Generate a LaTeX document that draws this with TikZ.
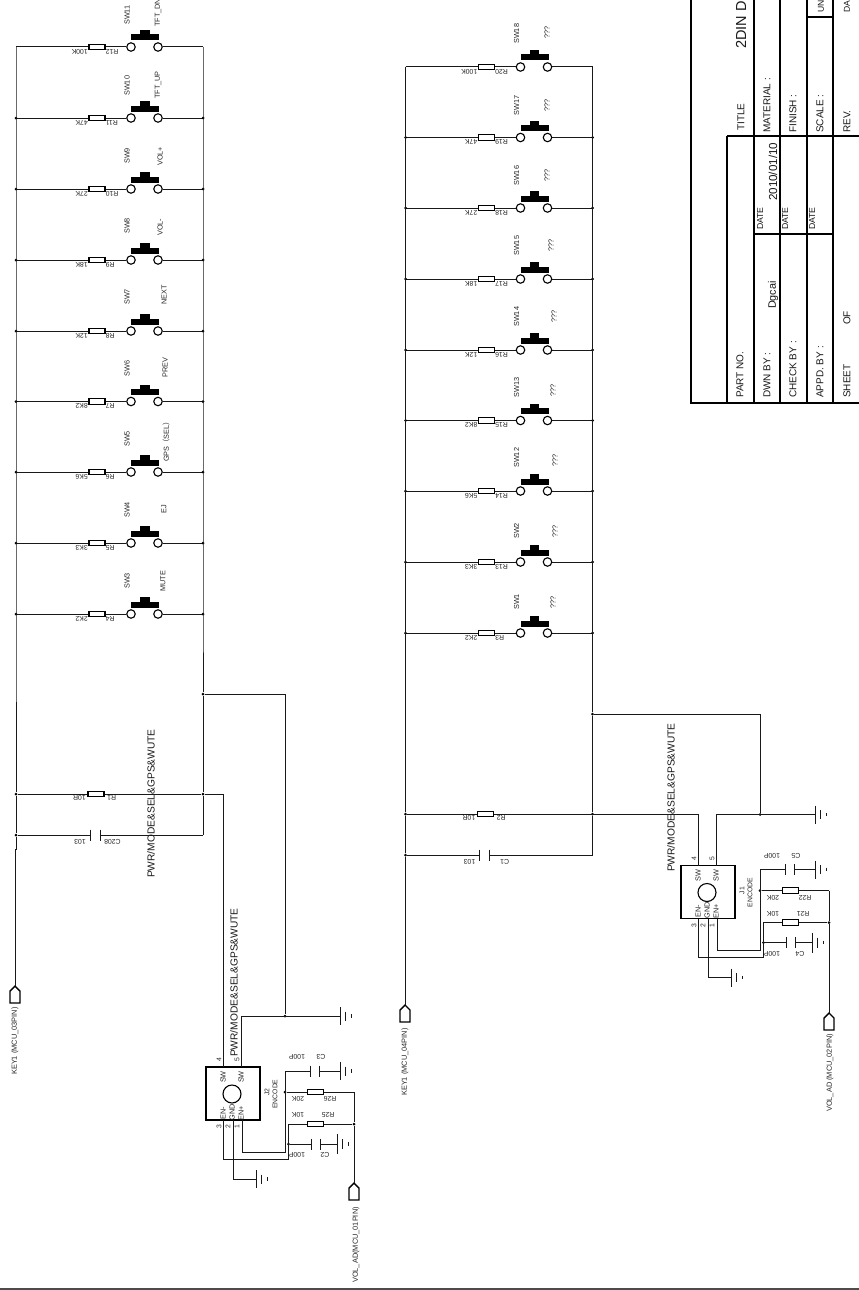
\documentclass[tikz,border=0pt]{standalone}
\usepackage{fontspec}
\setmainfont{Liberation Sans}
\newfontfamily\cjkf{Noto Sans CJK SC}
\newcommand\fs[1]{\fontsize{#1}{#1}\selectfont}
\tikzset{
  wire/.style={draw=black!90,line width=1pt},
  frame/.style={draw=black,line width=1.4pt},
  res/.style={draw=black,line width=1.1pt,fill=white,rectangle,minimum width=16pt,minimum height=5.5pt,inner sep=0pt},
  contact/.style={draw=black,line width=1.1pt,fill=white,circle,minimum size=8.5pt,inner sep=0pt},
  jdot/.style={fill=black,circle,minimum size=3pt,inner sep=0pt},
  up/.style={rotate=90,anchor=west,inner sep=0pt,text=black!85,font=\fs{7.3}},
  upc/.style={rotate=90,anchor=center,inner sep=0pt,text=black!85,font=\fs{7.3}},
  inv/.style={rotate=180,inner sep=0pt,text=black!85,font=\fs{6.9}},
  big/.style={rotate=90,anchor=west,inner sep=0pt,text=black!90,font=\fs{10.2}},
  tb/.style={rotate=90,anchor=west,inner sep=0pt,text=black!90,font=\fs{10}},
  tbs/.style={rotate=90,anchor=west,inner sep=0pt,text=black!90,font=\fs{8.7}},
  box/.style={draw=black,line width=1.1pt,rectangle,minimum width=54pt,minimum height=53pt,inner sep=0pt},
  knob/.style={draw=black,line width=1.1pt,circle,minimum size=18pt,inner sep=0pt},
}
% X, y, Rname, Rval, SWname, function, function x, SW offset, function offset
\newcommand\swrow[9]{%
  \coordinate (L#3) at ({#1+16},{#2});
  \coordinate (Q#3) at ({#1+203},{#2});
  \node[res] (#3) at ({#1+97},{#2}) {};
  \node[contact] (A#3) at ({#1+131},{#2}) {};
  \node[contact] (B#3) at ({#1+158},{#2}) {};
  \draw[wire] (L#3) -- (#3);
  \draw[wire] (#3) -- (A#3);
  \draw[wire] (B#3) -- (Q#3);
  \fill ({#1+131},{#2-12.5}) rectangle ({#1+159},{#2-6.5});
  \fill ({#1+140},{#2-17}) rectangle ({#1+149.5},{#2-12.5});
  \node[inv,anchor=east] (N#3) at ({#1+105.5},{#2+4.5}) {#3};
  \node[inv,anchor=west] (V#3) at ({#1+88},{#2+4.5}) {#4};
  \node[up] (#5) at ({#1+127},{#2-#8}) {#5};
  \node[up] (F#5) at ({#1+#7},{#2-#9}) {#6};
}
% ground: name, x, y, half height
\newcommand\gnd[4]{%
  \coordinate (#1) at ({#2},{#3});
  \draw[wire] ({#2},{#3-#4}) -- ({#2},{#3+#4});
  \draw[wire] ({#2+5.5},{#3-0.5*#4}) -- ({#2+5.5},{#3+0.5*#4});
  \draw[wire] ({#2+11},{#3-0.18*#4}) -- ({#2+11},{#3+0.18*#4});
}
% capacitor: name, x1, x2, y
\newcommand\capa[4]{%
  \coordinate (#1a) at ({#2},{#4});
  \coordinate (#1b) at ({#3},{#4});
  \draw[wire] ({#2},{#4-5.5}) -- ({#2},{#4+5.5});
  \draw[wire] ({#3},{#4-5.5}) -- ({#3},{#4+5.5});
}
% port: name, x, tip y, label offset, label, label x
\newcommand\port[6]{%
  \coordinate (#1) at ({#2},{#3});
  \draw[frame,line join=miter] (#1) -- ({#2+5},{#3+5}) -- ({#2+5},{#3+17}) -- ({#2-5},{#3+17}) -- ({#2-5},{#3+5}) -- cycle;
  \node[up,font=\fs{7.4}] (#1label) at ({#6},{#3+#4}) {#5};
}
% encoder: suffix, dx, dy, designator, C-top, R-top, R-low, C-low
\newcommand\encoder[8]{%
  \node[box] (box#1) at ({#2+233},{#3+1093.5}) {};
  \node[knob] (knob#1) at ({#2+232},{#3+1094}) {};
  \coordinate (p4#1) at ({#2+223},{#3+1067});
  \coordinate (p5#1) at ({#2+241},{#3+1067});
  \coordinate (p3#1) at ({#2+223},{#3+1120});
  \coordinate (p2#1) at ({#2+233},{#3+1120});
  \coordinate (p1#1) at ({#2+242},{#3+1120});
  \node[upc] (sw4#1) at ({#2+223},{#3+1077}) {SW};
  \node[upc] (sw5#1) at ({#2+241},{#3+1077}) {SW};
  \node[upc] (enm#1) at ({#2+223},{#3+1113}) {EN-};
  \node[upc] (gnd#1) at ({#2+232},{#3+1112}) {GND};
  \node[upc] (enp#1) at ({#2+241},{#3+1113}) {EN+};
  \node[upc,font=\fs{6.8}] (n4#1) at ({#2+219},{#3+1060}) {4};
  \node[upc,font=\fs{6.8}] (n5#1) at ({#2+237},{#3+1060}) {5};
  \node[upc,font=\fs{6.8}] (n3#1) at ({#2+219},{#3+1127}) {3};
  \node[upc,font=\fs{6.8}] (n2#1) at ({#2+228},{#3+1127}) {2};
  \node[upc,font=\fs{6.8}] (n1#1) at ({#2+237},{#3+1127}) {1};
  \node[upc,font=\fs{6.8}] (des#1) at ({#2+267},{#3+1092}) {#4};
  \node[upc,font=\fs{6.8}] (enc#1) at ({#2+275},{#3+1094}) {ENCODE};
  \capa{ct#1}{#2+310}{#2+319}{#3+1071}
  \gnd{gt#1}{#2+340}{#3+1071}{9}
  \node[inv] (lct#1) at ({#2+321},{#3+1057}) {#5};
  \node[inv] (lctv#1) at ({#2+297},{#3+1057}) {100P};
  \node[res] (rt#1) at ({#2+315.5},{#3+1092}) {};
  \node[inv] (lrt#1) at ({#2+330},{#3+1099}) {#6};
  \node[inv] (lrtv#1) at ({#2+298},{#3+1099}) {20K};
  \node[res] (rl#1) at ({#2+315.5},{#3+1124}) {};
  \node[inv] (lrl#1) at ({#2+328},{#3+1115}) {#7};
  \node[inv] (lrlv#1) at ({#2+298},{#3+1115}) {10K};
  \capa{cl#1}{#2+311}{#2+320}{#3+1144}
  \gnd{gl#1}{#2+337}{#3+1144}{10}
  \node[inv] (lcl#1) at ({#2+325},{#3+1155}) {#8};
  \node[inv] (lclv#1) at ({#2+297},{#3+1155}) {100P};
  \gnd{gb#1}{#2+256}{#3+1179}{9}
  \gnd{g5#1}{#2+340}{#3+1016}{9}
  \node[jdot] (j1#1) at ({#2+285},{#3+1092}) {};
  \node[jdot] (j2#1) at ({#2+288.5},{#3+1144}) {};
  \node[jdot] (j3#1) at ({#2+354},{#3+1124}) {};
  \coordinate (j4#1) at ({#2+354},{#3+1092});
  \node[jdot] (j5#1) at ({#2+285},{#3+1016}) {};
  \coordinate (c1#1) at ({#2+285},{#3+1152});
  \coordinate (c2#1) at ({#2+285},{#3+1071});
  \coordinate (c3#1) at ({#2+288.5},{#3+1159});
  \coordinate (c4#1) at ({#2+288.5},{#3+1124});
  \draw[wire] (p5#1) |- (g5#1);
  \draw[wire] (p1#1) |- (c1#1) -- (c2#1) -- (ct#1a);
  \draw[wire] (ct#1b) -- (gt#1);
  \draw[wire] (j1#1) -- (rt#1);
  \draw[wire] (rt#1) -- (j4#1);
  \draw[wire] (p3#1) |- (c3#1) -- (c4#1) -- (rl#1);
  \draw[wire] (rl#1) -- (j3#1);
  \draw[wire] (j2#1) -- (cl#1a);
  \draw[wire] (cl#1b) -- (gl#1);
  \draw[wire] (p2#1) |- (gb#1);
  \draw[wire] (j4#1) -- (j3#1);
}
\begin{document}
\begin{tikzpicture}[x=1pt,y=-1pt]
\useasboundingbox (0,0) rectangle (859,1290);
\fill[white] (0,0) rectangle (859,1290);
% ---------- left switch group
\swrow{0}{47}{R12}{100K}{SW11}{TFT\_DN}{158}{22}{20}
\swrow{0}{118}{R11}{47K}{SW10}{TFT\_UP}{158}{22}{19}
\swrow{0}{189}{R10}{27K}{SW9}{VOL+}{160}{25}{23}
\swrow{0}{260}{R9}{18K}{SW8}{VOL-}{160}{26}{24}
\swrow{0}{331}{R8}{12K}{SW7}{NEXT}{164}{26}{26}
\swrow{0}{401.5}{R7}{8K2}{SW6}{PREV}{165}{25}{24}
\swrow{0}{472}{R6}{5K6}{SW5}{GPS{\cjkf （}SEL{\cjkf ）}}{166}{25}{10}
\swrow{0}{543}{R5}{3K3}{SW4}{EJ}{164}{25}{29}
\swrow{0}{614}{R4}{2K2}{SW3}{MUTE}{163}{25}{22}
% ---------- right switch group
\swrow{389.5}{67}{R20}{100K}{SW18}{???}{157.5}{23}{28}
\swrow{389.5}{137.5}{R19}{47K}{SW17}{???}{157.5}{22}{26}
\swrow{389.5}{208}{R18}{27K}{SW16}{???}{157.5}{22}{26}
\swrow{389.5}{279}{R17}{18K}{SW15}{???}{161.5}{23}{27}
\swrow{389.5}{350}{R16}{12K}{SW14}{???}{164.5}{23}{27}
\swrow{389.5}{420.5}{R15}{8K2}{SW13}{???}{163.5}{23}{24}
\swrow{389.5}{491}{R14}{5K6}{SW12}{???}{165.5}{23}{24}
\swrow{389.5}{562}{R13}{3K3}{SW2}{???}{165.5}{23}{24}
\swrow{389.5}{633}{R3}{2K2}{SW1}{???}{163.5}{23}{24}
% junction dots of the switch rows
\foreach \r in {R11,R10,R9,R8,R7,R6,R5,R4,R19,R18,R17,R16,R15,R14,R13,R3}{
  \node[jdot] (dL\r) at (L\r) {};
  \node[jdot] (dQ\r) at (Q\r) {};
}
% ---------- left lower part
\node[res] (R1) at (96,794) {};
\node[jdot] (a1) at (16,794) {};
\node[jdot] (a2) at (203,794) {};
\node[jdot] (a3) at (16,835) {};
\node[jdot] (a4) at (203,694) {};
\coordinate (a5) at (203,835);
\coordinate (a6) at (16,849);
\coordinate (a7) at (15,849);
\capa{C208}{90}{100}{835}
\node[inv,anchor=east] (nR1) at (107,798) {R1};
\node[inv,anchor=west] (vR1) at (86,798) {10R};
\node[inv,anchor=east] (nC208) at (104,842) {C208};
\node[inv,anchor=west] (vC208) at (86,842) {103};
\node[big] (lab1) at (151,878) {PWR/MODE\&SEL\&GPS\&WUTE};
\node[big] (lab2) at (234,1057) {PWR/MODE\&SEL\&GPS\&WUTE};
\port{KEYa}{15}{986}{89}{KEY1 (MCU\_03PIN)}{15}
\port{VOLa}{354}{1183}{100}{VOL\_AD(MCU\_01PIN)}{356}
\encoder{a}{0}{0}{J2}{C3}{R26}{R25}{C2}
\draw[wire] (LR12) -- (LR4) -- (a1) -- (a3) -- (a6) -- (a7) -- (KEYa);
\draw[wire] (QR12) -- (QR4) -- (a4) -- (a2) -- (a5);
\draw[wire] (a1) -- (R1);
\draw[wire] (R1) -- (a2) -- (a2 -| p4a) -- (p4a);
\draw[wire] (a3) -- (C208a);
\draw[wire] (C208b) -- (a5);
\draw[wire] (a4) -| (j5a);
\draw[wire] (j3a) -- (VOLa);
% ---------- right lower part
\node[res] (R2) at (485.5,814) {};
\node[jdot] (b1) at (405.5,814) {};
\node[jdot] (b3) at (405.5,855) {};
\node[jdot] (b4) at (592.5,714) {};
\node[jdot] (b2) at (592.5,814) {};
\coordinate (b5) at (592.5,855);
\coordinate (b6) at (405.5,868);
\coordinate (b7) at (405,868);
\capa{C1}{479.5}{489.5}{855}
\node[inv,anchor=east] (nR2) at (496.5,817.5) {R2};
\node[inv,anchor=west] (vR2) at (475.5,817.5) {10R};
\node[inv,anchor=east] (nC1) at (500,862) {C1};
\node[inv,anchor=west] (vC1) at (475.5,862) {103};
\node[big] (lab3) at (671,872) {PWR/MODE\&SEL\&GPS\&WUTE};
\port{KEYb}{405}{1005}{91}{KEY1 (MCU\_04PIN)}{405}
\port{VOLb}{829}{1013}{99}{VOL\_AD (MCU\_02PIN)}{830}
\encoder{b}{475}{-201.5}{J1}{C5}{R22}{R21}{C4}
\draw[wire] (LR20) -- (LR3) -- (b1) -- (b3) -- (b6) -- (b7) -- (KEYb);
\draw[wire] (QR20) -- (QR3) -- (b4) -- (b2) -- (b5);
\draw[wire] (b1) -- (R2);
\draw[wire] (R2) -- (R2 -| p4b) -- (p4b);
\draw[wire] (b3) -- (C1a);
\draw[wire] (C1b) -- (b5);
\draw[wire] (b4) -| (j5b);
\draw[wire] (j3b) -- (VOLb);
% ---------- title block
\coordinate (t1) at (691,0);
\coordinate (t2) at (691,403);
\coordinate (t3) at (859,403);
\draw[frame] (t1) -- (t2) -- (t3);
\draw[frame] (727,136) -- (727,403);
\foreach \x in {754,780,807,833} \draw[frame] (\x,0) -- (\x,403);
\draw[frame] (727,136) -- (859,136);
\draw[frame] (754,234) -- (833,234);
\draw[frame] (807,17) -- (833,17);
\node[tb] (tTitle) at (741,131) {TITLE};
\node[tb,font=\fs{14.5}] (tName) at (741,49) {2DIN D};
\node[tb] (tMat) at (767,133) {MATERIAL :};
\node[tb] (tFin) at (793,133) {FINISH :};
\node[tb] (tSca) at (820,133) {SCALE :};
\node[tb] (tRev) at (847,133) {REV.};
\node[tb,font=\fs{8.6}] (tUn) at (821,13) {UN};
\node[tb,font=\fs{8.6}] (tDa) at (847,13) {DA};
\node[tb] (tPart) at (740,398) {PART NO.};
\node[tb] (tDwn) at (767,398) {DWN BY :};
\node[tb] (tChk) at (793,398) {CHECK BY :};
\node[tb] (tApp) at (820,398) {APPD. BY :};
\node[tb] (tShe) at (847,398) {SHEET};
\node[tb] (tOf) at (847,325) {OF};
\node[tb,font=\fs{10.8}] (tDg) at (773,309) {Dgcai};
\node[tb,font=\fs{11.6}] (tDt) at (773,201) {2010/01/10};
\node[tbs] (tD1) at (760,230) {DATE};
\node[tbs] (tD2) at (785,230) {DATE};
\node[tbs] (tD3) at (812,230) {DATE};
\coordinate (e1) at (0,1289);
\coordinate (e2) at (859,1289);
\draw[draw=black!70,line width=1.2pt] (e1) -- (e2);
\end{tikzpicture}
\end{document}
